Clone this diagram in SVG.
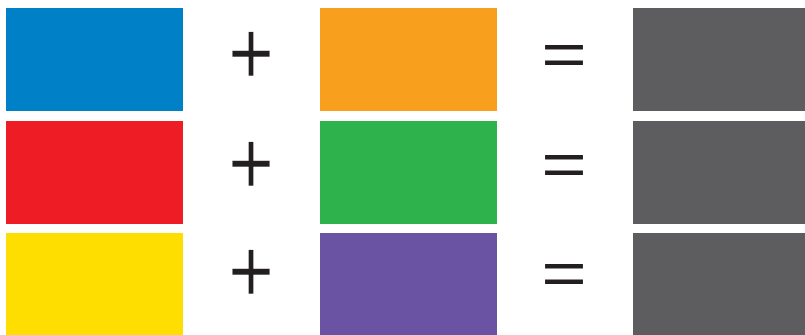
<svg xmlns="http://www.w3.org/2000/svg" width="805" height="335" viewBox="0 0 805 335">
<style>
.sym{font-family:"Liberation Sans",Arial,sans-serif;font-size:78px;fill:#231F20;text-anchor:middle}
.plus{stroke:#FFFFFF;stroke-width:0.6px;paint-order:fill}
.res{fill:#5D5D5F}
</style>
<rect width="805" height="335" fill="#FFFFFF"/>
<g id="row1">
<g id="blue"><rect x="6" y="8" width="177" height="103" fill="#0080C6"/></g>
<g id="plus1" transform="translate(251,57.4) scale(1,1.16)"><text class="sym plus" x="0" y="22.5">+</text></g>
<g id="orange"><rect x="320" y="8" width="177" height="103" fill="#F8A01E"/></g>
<g id="eq1" transform="translate(564,57) scale(1,0.78)"><text class="sym" x="0" y="22.7">=</text></g>
<g id="result1"><rect class="res" x="633" y="8" width="172" height="103"/></g>
</g>
<g id="row2">
<g id="red"><rect x="6" y="121" width="177" height="103" fill="#EE1C25"/></g>
<g id="plus2" transform="translate(251,167.5) scale(1,1.16)"><text class="sym plus" x="0" y="22.5">+</text></g>
<g id="green"><rect x="320" y="121" width="177" height="103" fill="#2EB24C"/></g>
<g id="eq2" transform="translate(564,167.5) scale(1,0.78)"><text class="sym" x="0" y="22.7">=</text></g>
<g id="result2"><rect class="res" x="633" y="121" width="172" height="103"/></g>
</g>
<g id="row3">
<g id="yellow"><rect x="6" y="233" width="177" height="102" fill="#FEDD00"/></g>
<g id="plus3" transform="translate(251,276) scale(1,1.16)"><text class="sym plus" x="0" y="22.5">+</text></g>
<g id="purple"><rect x="320" y="233" width="177" height="102" fill="#6953A2"/></g>
<g id="eq3" transform="translate(564,276) scale(1,0.78)"><text class="sym" x="0" y="22.7">=</text></g>
<g id="result3"><rect class="res" x="633" y="233" width="172" height="102"/></g>
</g>
<g id="connectors"/>
</svg>
